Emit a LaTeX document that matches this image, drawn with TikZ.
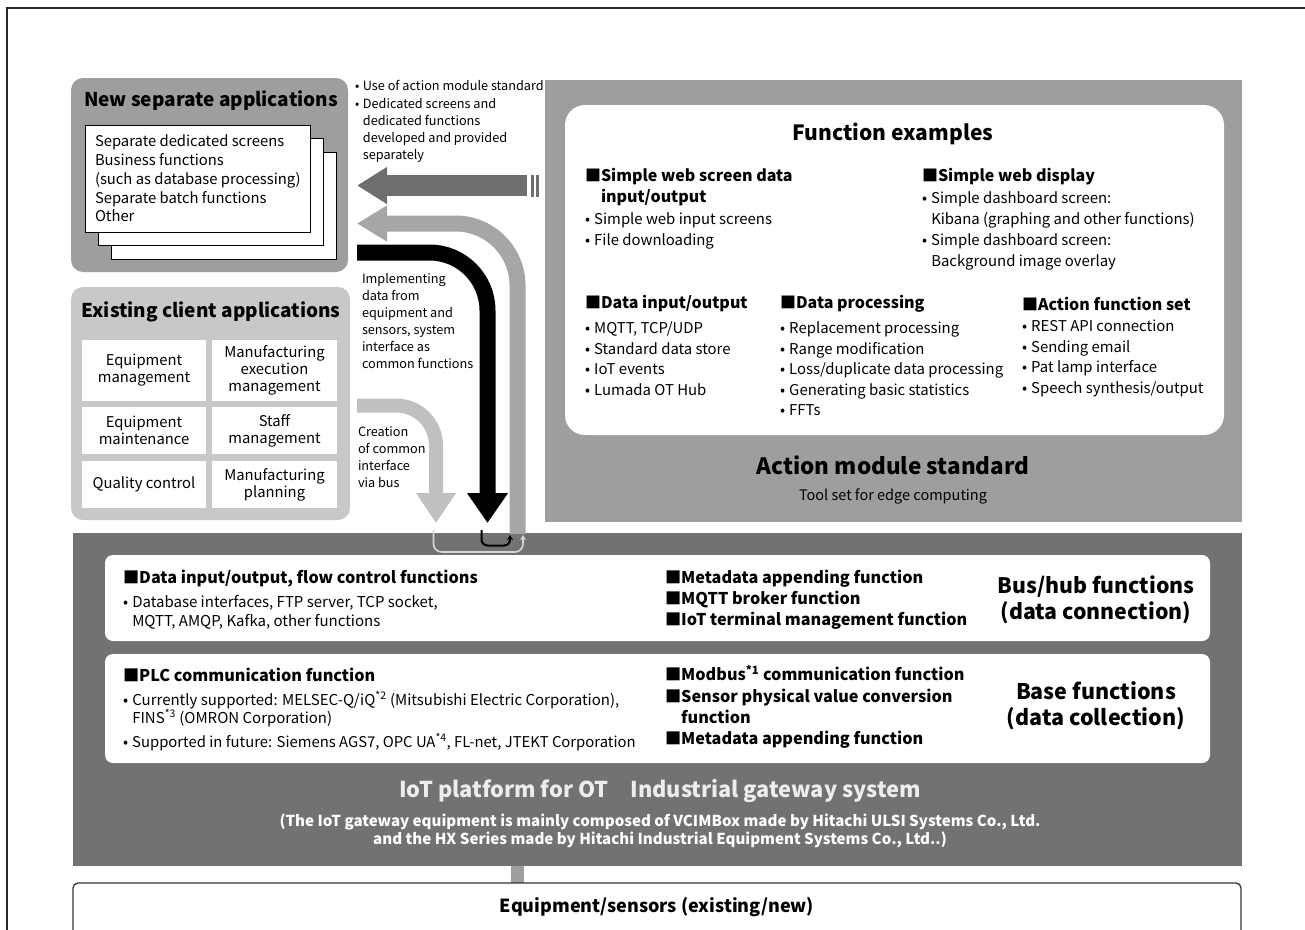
\documentclass[tikz,border=0pt]{standalone}
\usepackage{fontspec}
\setmainfont{Noto Sans CJK JP}
\usetikzlibrary{arrows.meta}
\definecolor{boxgray}{HTML}{9E9E9E}
\definecolor{lightbox}{HTML}{C8C8C8}
\definecolor{darkarrow}{HTML}{6E6E6E}
\definecolor{midarrow}{HTML}{A6A6A6}
\definecolor{lightarrow}{HTML}{C0C0C0}
\definecolor{bandgray}{HTML}{727272}
\definecolor{bandtext}{HTML}{EDEDED}
\definecolor{lightconn}{HTML}{D5D5D5}
\newcommand\fsz[2]{\fontsize{#1}{#2}\selectfont}
\newcommand\bul{\makebox[0.62em][l]{•}}
\newcommand\bulind{\hspace*{0.62em}}
\newcommand\sqb{■}
\begin{document}
\begin{tikzpicture}[x=1pt,y=-1pt,
  box/.style={inner sep=0pt, outer sep=0pt, anchor=north west},
  card/.style={box, fill=white, draw=black, line width=1pt, minimum width=225pt, minimum height=107pt},
  cell/.style={box, fill=white},
  txt/.style={inner sep=0pt, outer sep=0pt, align=left, anchor=west},
  ctr/.style={inner sep=0pt, outer sep=0pt, align=center},
  body/.style={font=\fsz{14.8}{18.75}},
  small/.style={font=\fsz{12.7}{17.1}},
  head/.style={font=\bfseries\fsz{16}{21}},
  items/.style={font=\fsz{14.9}{20.5}},
  bigarrow/.style={line width=#1, line join=miter},
]
\useasboundingbox (0,0) rectangle (1305,929);

% outer frame
\draw[line width=1.2pt, black!85] (7,940) -- (7,8) -- (1315,8);

% ---------- New separate applications ----------
\node[box, fill=boxgray, rounded corners=12pt, minimum width=277pt, minimum height=194pt] (newapp) at (71,78) {};
\node[ctr, font=\bfseries\fsz{19}{23}] (newtitle) at (211,101) {New separate applications};
\node[card] (card3) at (111,152) {};
\node[card] (card2) at (98,138) {};
\node[card] (card1) at (85,125) {};
\node[txt, body] (cardtext) at (95,178.5) {Separate dedicated screens\\Business functions\\(such as database processing)\\Separate batch functions\\Other};

\node[txt, small] (note) at (355,121.5) {\bul Use of action module standard\\\bul Dedicated screens and\\\bulind dedicated functions\\\bulind developed and provided\\\bulind separately};

% ---------- Existing client applications ----------
\node[box, fill=lightbox, rounded corners=12pt, minimum width=279pt, minimum height=233pt] (exist) at (71,287) {};
\node[ctr, font=\bfseries\fsz{19}{23}] (existtitle) at (211,312) {Existing client applications};
\node[cell, minimum width=124pt, minimum height=61pt] (c11) at (82,340) {};
\node[cell, minimum width=125pt, minimum height=61pt] (c12) at (212,340) {};
\node[cell, minimum width=124pt, minimum height=47pt] (c21) at (82,407) {};
\node[cell, minimum width=125pt, minimum height=47pt] (c22) at (212,407) {};
\node[cell, minimum width=124pt, minimum height=47pt] (c31) at (82,461) {};
\node[cell, minimum width=125pt, minimum height=47pt] (c32) at (212,461) {};
\node[ctr, font=\fsz{14.8}{17}] (t11) at (c11.center) {Equipment\\management};
\node[ctr, font=\fsz{14.8}{17}] (t12) at (c12.center) {Manufacturing\\execution\\management};
\node[ctr, font=\fsz{14.8}{17}] (t21) at (c21.center) {Equipment\\maintenance};
\node[ctr, font=\fsz{14.8}{17}] (t22) at (c22.center) {Staff\\management};
\node[ctr, font=\fsz{14.8}{17}] (t31) at (c31.center) {Quality control};
\node[ctr, font=\fsz{14.8}{17}] (t32) at (c32.center) {Manufacturing\\planning};

\node[txt, small] (impl) at (362,321) {Implementing\\data from\\equipment and\\sensors, system\\interface as\\common functions};
\node[txt, small] (creat) at (358,457.5) {Creation\\of common\\interface\\via bus};

% ---------- Action module standard ----------
\node[box, fill=boxgray, minimum width=697pt, minimum height=442pt] (action) at (545,80) {};
\node[box, fill=white, rounded corners=20pt, minimum width=659pt, minimum height=330pt] (func) at (565,105) {};
\node[ctr, font=\bfseries\fsz{21}{25}] (fextitle) at (893,134) {Function examples};
\node[txt, head] (hA) at (585,187.5) {\sqb Simple web screen data\\\phantom{\sqb}input/output};
\node[txt, font=\fsz{14.9}{21}] (iA) at (585,230.5) {\bul Simple web input screens\\\bul File downloading};
\node[txt, head] (hB) at (922,177) {\sqb Simple web display};
\node[txt, font=\fsz{14.9}{21}] (iB) at (922,230.5) {\bul Simple dashboard screen:\\\bulind Kibana (graphing and other functions)\\\bul Simple dashboard screen:\\\bulind Background image overlay};
\node[txt, head] (hC) at (585,304) {\sqb Data input/output};
\node[txt, items] (iC) at (585,358.5) {\bul MQTT, TCP/UDP\\\bul Standard data store\\\bul IoT events\\\bul Lumada OT Hub};
\node[txt, head] (hD) at (780,304) {\sqb Data processing};
\node[txt, items] (iD) at (780,369) {\bul Replacement processing\\\bul Range modification\\\bul Loss/duplicate data processing\\\bul Generating basic statistics\\\bul FFTs};
\node[txt, head] (hE) at (1022,304) {\sqb Action function set};
\node[txt, items] (iE) at (1022,358.5) {\bul REST API connection\\\bul Sending email\\\bul Pat lamp interface\\\bul Speech synthesis/output};
\node[ctr, font=\bfseries\fsz{22.5}{27}] (amtitle) at (893,465) {Action module standard};
\node[ctr, font=\fsz{14.5}{18}] (amsub) at (893,496) {Tool set for edge computing};

% ---------- Gateway band ----------
\node[box, fill=bandgray, minimum width=1169pt, minimum height=333pt] (band) at (73,533) {};
\node[box, fill=white, rounded corners=8pt, minimum width=1105pt, minimum height=86pt] (bus) at (105,555) {};
\node[box, fill=white, rounded corners=8pt, minimum width=1105pt, minimum height=109pt] (base) at (105,654) {};
\node[txt, font=\bfseries\fsz{16.2}{21}] (h1) at (123,579) {\sqb Data input/output, flow control functions};
\node[txt, font=\fsz{15}{19}] (i1) at (123,612.5) {\bul Database interfaces, FTP server, TCP socket,\\\bulind MQTT, AMQP, Kafka, other functions};
\node[txt, font=\bfseries\fsz{16.2}{21}] (h2) at (665,600) {\sqb Metadata appending function\\\sqb MQTT broker function\\\sqb IoT terminal management function};
\node[ctr, font=\bfseries\fsz{21.3}{26}] (bustitle) at (1096,600) {Bus/hub functions\\(data connection)};
\node[txt, font=\bfseries\fsz{16.2}{21}] (h3) at (123,675) {\sqb PLC communication function};
\node[txt, font=\fsz{15}{18}] (i3) at (123,709) {\bul Currently supported: MELSEC-Q/iQ\textsuperscript{*2} (Mitsubishi Electric Corporation),\\\bulind FINS\textsuperscript{*3} (OMRON Corporation)};
\node[txt, font=\fsz{14.85}{18}] (i4) at (123,742) {\bul Supported in future: Siemens AGS7, OPC UA\textsuperscript{*4}, FL-net, JTEKT Corporation};
\node[txt, font=\bfseries\fsz{16.2}{21.3}] (h4) at (665,707) {\sqb Modbus\textsuperscript{*1} communication function\\\sqb Sensor physical value conversion\\\phantom{\sqb}function\\\sqb Metadata appending function};
\node[ctr, font=\bfseries\fsz{21.5}{26}] (basetitle) at (1096,706) {Base functions\\(data collection)};
\node[ctr, font=\bfseries\fsz{21.8}{26}, text=bandtext] (iot) at (660,791) {IoT platform for OT　Industrial gateway system};
\node[ctr, font=\bfseries\fsz{15.1}{18}, text=white] (iotsub) at (660,831) {(The IoT gateway equipment is mainly composed of VCIMBox made by Hitachi ULSI Systems Co., Ltd.\\and the HX Series made by Hitachi Industrial Equipment Systems Co., Ltd..)};

% ---------- Equipment ----------
\node[box, fill=boxgray, minimum width=13pt, minimum height=18pt] (link) at (511,866) {};
\node[box, fill=white, draw=black!80, line width=1.3pt, rounded corners=5pt, minimum width=1168pt, minimum height=70pt] (equip) at (73,883) {};
\node[ctr, font=\bfseries\fsz{18}{21}] (eqtext) at (657,907) {Equipment/sensors (existing/new)};

% ---------- Arrows ----------
\coordinate (dStart) at (527,185.5);
\coordinate (dEnd) at ([xshift=9pt]newapp.east |- dStart);
\draw[darkarrow, bigarrow=21pt, -{Triangle[length=30pt,width=35pt]}] (dStart) -- (dEnd);
\node[box, fill=darkarrow, minimum width=2.5pt, minimum height=22pt] (bar1) at (531,174.5) {};
\node[box, fill=darkarrow, minimum width=3pt, minimum height=22pt] (bar2) at (536,174.5) {};

\coordinate (mStart) at (517.5,534);
\coordinate (mCorner) at (517.5,223.5);
\coordinate (mEnd) at (357,223.5);
\draw[midarrow, bigarrow=16pt, rounded corners=62pt, -{Triangle[length=30pt,width=34pt]}] (mStart) -- (mCorner) -- (mEnd);

\coordinate (kStart) at (357,252.5);
\coordinate (kCorner) at (487.5,252.5);
\coordinate (kEnd) at (487.5,523);
\draw[black, bigarrow=16pt, rounded corners=58pt, -{Triangle[length=30pt,width=39pt]}] (kStart) -- (kCorner) -- (kEnd);

\coordinate (eStart) at (357,405.5);
\coordinate (eCorner) at (436,405.5);
\coordinate (eEnd) at (436,523);
\draw[lightarrow, bigarrow=14pt, rounded corners=40pt, -{Triangle[length=30pt,width=38pt]}] (eStart) -- (eCorner) -- (eEnd);

% small connectors into the bus
\draw[lightconn, line width=1.6pt, rounded corners=8pt, -{Stealth[length=5pt,width=6pt]}] (433.5,530) -- (433.5,552) -- (523,552) -- (523,535);
\draw[black, line width=2pt, rounded corners=6pt, -{Stealth[length=5pt,width=6pt]}] (481.5,530) -- (481.5,545.5) -- (510,545.5) -- (510,535);
\end{tikzpicture}
\end{document}
